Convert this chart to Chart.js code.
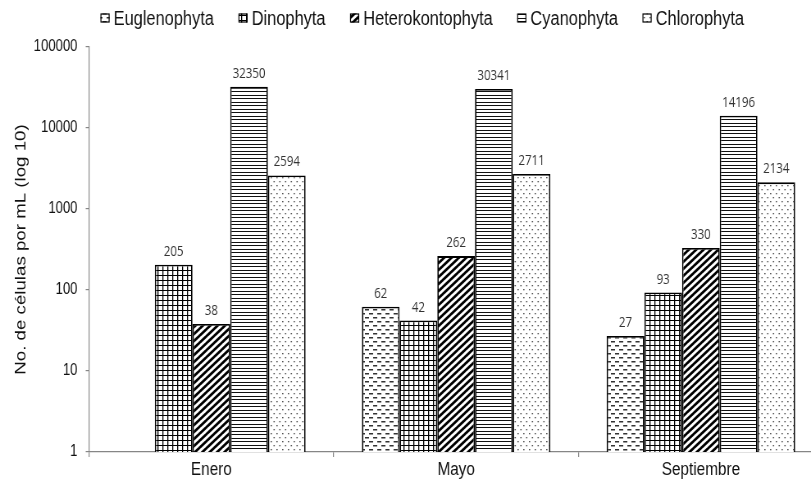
<!DOCTYPE html>
<html>
<head>
<meta charset="utf-8">
<script src="https://cdn.jsdelivr.net/npm/chart.js@4/dist/chart.umd.min.js"></script>
<style>
  html, body { margin: 0; padding: 0; background: #fff; overflow: hidden; width: 811px; height: 479px; }
  #wrap { width: 1030px; height: 479px; transform: scaleX(0.82); transform-origin: 0 0; }
</style>
</head>
<body>
<div id="wrap"><canvas id="c" width="1030" height="479"></canvas></div>
<script>
const categories = ["Enero", "Mayo", "Septiembre"];
const seriesNames = ["Euglenophyta", "Dinophyta", "Heterokontophyta", "Cyanophyta", "Chlorophyta"];
const euglenophyta = [null, 62, 27];
const dinophyta = [205, 42, 93];
const heterokontophyta = [38, 262, 330];
const cyanophyta = [32350, 30341, 14196];
const chlorophyta = [2594, 2711, 2134];
const yTicks = [1, 10, 100, 1000, 10000, 100000];
const yTitle = "No. de células por mL (log 10)";

const FONT = '"Liberation Sans", Arial, sans-serif';
const canvas = document.getElementById('c');
const ctx = canvas.getContext('2d');

function makePattern(w, h, draw) {
  const c = document.createElement('canvas');
  c.width = w; c.height = h;
  const x = c.getContext('2d');
  x.fillStyle = '#fff';
  x.fillRect(0, 0, w, h);
  draw(x);
  return ctx.createPattern(c, 'repeat');
}

const patEuglena = makePattern(10, 8, x => {
  x.fillStyle = '#333';
  x.fillRect(0, 1, 5, 1.5);
  x.fillRect(5, 5, 5, 1.5);
});
const patDino = makePattern(6, 5, x => {
  x.fillStyle = '#000';
  x.fillRect(0, 0, 6, 1);
  x.fillRect(0, 0, 1.3, 5);
});
const patHetero = makePattern(9, 7, x => {
  x.strokeStyle = '#000';
  x.lineWidth = 2.8;
  x.beginPath();
  for (let k = -1; k <= 1; k++) {
    x.moveTo(k * 9 - 1, 7 + 7 / 9); x.lineTo(k * 9 + 10, -7 / 9);
  }
  x.stroke();
});
const patCyano = makePattern(4, 7, x => {
  x.fillStyle = '#111';
  x.fillRect(0, 0, 4, 1);
  x.fillRect(0, 4, 4, 1);
});
const patChloro = makePattern(7, 8, x => {
  x.fillStyle = '#555';
  x.fillRect(1, 1, 1.6, 1.3);
  x.fillRect(4.5, 5, 1.6, 1.3);
});
const patterns = [patEuglena, patDino, patHetero, patCyano, patChloro];
const seriesData = [euglenophyta, dinophyta, heterokontophyta, cyanophyta, chlorophyta];

const datasets = seriesNames.map((n, i) => ({
  label: n,
  data: seriesData[i],
  backgroundColor: patterns[i],
  borderColor: '#000',
  borderWidth: 1.8,
  barPercentage: 1.0,
  categoryPercentage: 0.77
}));

const valueLabels = {
  id: 'valueLabels',
  afterDatasetsDraw(chart) {
    const c = chart.ctx;
    c.save();
    c.font = '14px "Open Sans", sans-serif';
    c.fillStyle = '#333';
    c.textAlign = 'center';
    c.textBaseline = 'middle';
    chart.data.datasets.forEach((ds, i) => {
      const meta = chart.getDatasetMeta(i);
      meta.data.forEach((bar, j) => {
        const v = ds.data[j];
        if (v === null || v === undefined) return;
        c.fillText(String(v), bar.x, bar.y - 13);
      });
    });
    c.restore();
  }
};

const customLegend = {
  id: 'customLegend',
  afterDraw(chart) {
    const c = chart.ctx;
    c.save();
    c.font = '20px ' + FONT;
    c.textBaseline = 'middle';
    const boxW = 11, boxH = 9, gapText = 5, gapItem = 30;
    const widths = seriesNames.map(n => c.measureText(n).width);
    const total = widths.reduce((a, b) => a + b, 0) + seriesNames.length * (boxW + gapText) + (seriesNames.length - 1) * gapItem;
    const centerX = chart.width / 2, cy = 18;
    let x = centerX - total / 2;
    seriesNames.forEach((n, i) => {
      c.fillStyle = patterns[i];
      c.fillRect(x, cy - boxH / 2, boxW, boxH);
      c.strokeStyle = '#000';
      c.lineWidth = 1.2;
      c.strokeRect(x + 0.5, cy - boxH / 2 + 0.5, boxW - 1, boxH - 1);
      c.fillStyle = '#111';
      c.textAlign = 'left';
      c.fillText(n, x + boxW + gapText, cy + 1);
      x += boxW + gapText + widths[i] + gapItem;
    });
    c.restore();
  }
};

new Chart(canvas, {
  type: 'bar',
  data: { labels: categories, datasets },
  plugins: [valueLabels, customLegend],
  options: {
    responsive: false,
    animation: false,
    devicePixelRatio: 1,
    events: [],
    layout: { padding: { top: 47, right: 26, left: 11, bottom: 0 } },
    plugins: { legend: { display: false }, tooltip: { enabled: false } },
    scales: {
      x: {
        offset: true,
        grid: { offset: true, drawOnChartArea: false, drawTicks: true, tickLength: 5, color: '#868686', lineWidth: 1.2 },
        border: { color: '#868686', width: 1.2 },
        ticks: { font: { family: FONT, size: 18.7 }, color: '#111', padding: 2 },
        afterFit(s) { s.height = 27; }
      },
      y: {
        type: 'logarithmic',
        min: 1,
        max: 100000,
        afterBuildTicks(s) { s.ticks = yTicks.map(v => ({ value: v })); },
        grid: { drawOnChartArea: false, drawTicks: true, tickLength: 4, color: '#868686', lineWidth: 1.2 },
        border: { color: '#868686', width: 1.2 },
        ticks: {
          font: { family: FONT, size: 16 },
          color: '#111',
          padding: 10,
          callback: v => String(v)
        },
        title: {
          display: true,
          text: yTitle,
          font: { family: FONT, size: 18.7 },
          color: '#111',
          padding: { top: 4, bottom: 4 }
        },
        afterFit(s) { s.width = 97.5; }
      }
    }
  }
});
</script>
</body>
</html>
